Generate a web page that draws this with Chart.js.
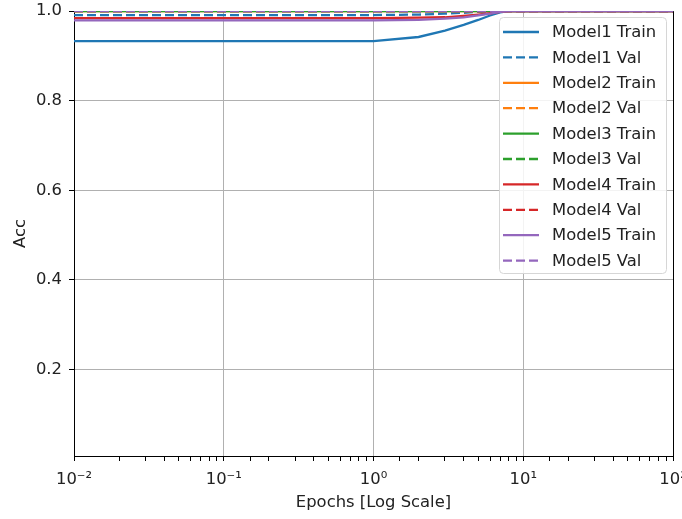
<!DOCTYPE html>
<html lang="en">
<head>
  <meta charset="UTF-8">
  <title>Acc vs Epochs</title>
  <script src="https://cdn.jsdelivr.net/npm/chart.js"></script>
  <style>
    html, body { margin: 0; padding: 0; background: #fff; }
    #wrap { width: 682px; height: 519px; }
  </style>
</head>
<body>
  <div id="wrap"><canvas id="accChart" width="682" height="519"></canvas></div>
  <script>
    // Data (first point stands in for epoch 0 on the log axis)
    const epochs = [0.01, 1, 2, 3, 4, 5, 6, 7, 8, 9, 10, 100];
    const model1Train = [0.933, 0.933, 0.942, 0.956, 0.969, 0.980, 0.990, 0.997, 1.0, 1.0, 1.0, 1.0];
    const model1Val   = [0.991, 0.991, 0.992, 0.994, 0.996, 0.998, 0.999, 1.0, 1.0, 1.0, 1.0, 1.0];
    const model2Train = [1.0, 1.0, 1.0, 1.0, 1.0, 1.0, 1.0, 1.0, 1.0, 1.0, 1.0, 1.0];
    const model2Val   = [1.0, 1.0, 1.0, 1.0, 1.0, 1.0, 1.0, 1.0, 1.0, 1.0, 1.0, 1.0];
    const model3Train = [1.0, 1.0, 1.0, 1.0, 1.0, 1.0, 1.0, 1.0, 1.0, 1.0, 1.0, 1.0];
    const model3Val   = [1.0, 1.0, 1.0, 1.0, 1.0, 1.0, 1.0, 1.0, 1.0, 1.0, 1.0, 1.0];
    const model4Train = [0.984, 0.984, 0.985, 0.986, 0.989, 0.992, 0.995, 0.998, 1.0, 1.0, 1.0, 1.0];
    const model4Val   = [1.0, 1.0, 1.0, 1.0, 1.0, 1.0, 1.0, 1.0, 1.0, 1.0, 1.0, 1.0];
    const model5Train = [0.979, 0.979, 0.980, 0.983, 0.986, 0.990, 0.994, 0.998, 1.0, 1.0, 1.0, 1.0];
    const model5Val   = [1.0, 1.0, 1.0, 1.0, 1.0, 1.0, 1.0, 1.0, 1.0, 1.0, 1.0, 1.0];

    const seriesNames = ["Model1 Train", "Model1 Val", "Model2 Train", "Model2 Val", "Model3 Train",
                         "Model3 Val", "Model4 Train", "Model4 Val", "Model5 Train", "Model5 Val"];
    const seriesValues = [model1Train, model1Val, model2Train, model2Val, model3Train,
                          model3Val, model4Train, model4Val, model5Train, model5Val];
    const yTicks = [0.2, 0.4, 0.6, 0.8, 1.0];
    const xTickLabels = {"-2": "10⁻²", "-1": "10⁻¹", "0": "10⁰", "1": "10¹", "2": "10²"};

    const colors = ["#1f77b4", "#ff7f0e", "#2ca02c", "#d62728", "#9467bd"];
    const FONT = "DejaVu Sans";
    const FSIZE = 16.4;

    function isMajor(v) {
      const l = Math.log10(v);
      return Math.abs(l - Math.round(l)) < 1e-9;
    }

    const datasets = seriesNames.map((name, i) => ({
      label: name,
      data: epochs.map((x, j) => ({ x: x, y: seriesValues[i][j] })),
      borderColor: colors[Math.floor(i / 2)],
      backgroundColor: colors[Math.floor(i / 2)],
      borderWidth: 2.3,
      borderDash: i % 2 ? [9, 4] : [],
      pointRadius: 0,
      tension: 0,
      fill: false,
      order: 20 - i   // later series on top, like matplotlib
    }));

    // legend drawn inside the plot, top right
    const insideLegend = {
      id: "insideLegend",
      afterDatasetsDraw(chart) {
        const { ctx, chartArea } = chart;
        const x0 = chartArea.right - 174, y0 = chartArea.top + 6, w = 167, h = 256;
        ctx.save();
        ctx.beginPath();
        ctx.roundRect(x0 + 0.5, y0 + 0.5, w, h, 4);
        ctx.fillStyle = "rgba(255,255,255,0.85)";
        ctx.fill();
        ctx.strokeStyle = "#d6d6d6";
        ctx.lineWidth = 1;
        ctx.stroke();
        ctx.font = FSIZE + "px '" + FONT + "'";
        ctx.textBaseline = "middle";
        ctx.fillStyle = "#222";
        chart.data.datasets.forEach((ds, i) => {
          const y = y0 + 15 + i * 25.4;
          ctx.beginPath();
          ctx.setLineDash(ds.borderDash);
          ctx.strokeStyle = ds.borderColor;
          ctx.lineWidth = 2.3;
          ctx.moveTo(x0 + 4, y);
          ctx.lineTo(x0 + 40, y);
          ctx.stroke();
          ctx.setLineDash([]);
          ctx.fillText(ds.label, x0 + 53, y + 1);
        });
        ctx.restore();
      }
    };

    // top and right spines
    const frame = {
      id: "frame",
      beforeDatasetsDraw(chart) {
        const { ctx, chartArea } = chart;
        ctx.save();
        ctx.strokeStyle = "#000";
        ctx.lineWidth = 1;
        ctx.beginPath();
        ctx.moveTo(chartArea.left, chartArea.top + 0.5);
        ctx.lineTo(chartArea.right + 0.5, chartArea.top + 0.5);
        ctx.lineTo(chartArea.right + 0.5, chartArea.bottom);
        ctx.stroke();
        ctx.restore();
      }
    };

    new Chart(document.getElementById("accChart"), {
      type: "line",
      data: { datasets: datasets },
      options: {
        responsive: false,
        animation: false,
        layout: { padding: { top: 11, right: 9, left: 0, bottom: 0 } },
        plugins: {
          legend: { display: false },
          tooltip: { enabled: false }
        },
        scales: {
          x: {
            type: "logarithmic",
            min: 0.01,
            max: 100,
            afterFit: (scale) => { scale.height = 63; scale.paddingLeft = 0; scale.paddingRight = 0; },
            border: { color: "#000", width: 1 },
            grid: {
              color: (c) => (c.tick && isMajor(c.tick.value)) ? "#b0b0b0" : "rgba(0,0,0,0)",
              tickColor: "#000",
              tickLength: 5,
              lineWidth: 1
            },
            ticks: {
              autoSkip: false,
              maxRotation: 0,
              padding: 9,
              color: "#222",
              font: { family: FONT, size: FSIZE },
              callback: (v) => isMajor(v) ? xTickLabels[String(Math.round(Math.log10(v)))] : ""
            },
            title: {
              display: true,
              text: "Epochs [Log Scale]",
              color: "#222",
              font: { family: FONT, size: FSIZE },
              padding: { top: 0, bottom: 6 }
            }
          },
          y: {
            min: 0.007,
            max: 1.0,
            afterFit: (scale) => { scale.width = 74; scale.paddingTop = 0; scale.paddingBottom = 0; },
            afterBuildTicks: (scale) => { scale.ticks = yTicks.map(v => ({ value: v })); },
            border: { color: "#000", width: 1 },
            grid: { color: "#b0b0b0", tickColor: "#000", tickLength: 5, lineWidth: 1 },
            ticks: {
              padding: 7,
              color: "#222",
              font: { family: FONT, size: FSIZE },
              callback: (v) => Number(v).toFixed(1)
            },
            title: {
              display: true,
              text: "Acc",
              color: "#222",
              font: { family: FONT, size: FSIZE },
              padding: { top: 11, bottom: 0 }
            }
          }
        }
      },
      plugins: [frame, insideLegend]
    });
  </script>
</body>
</html>
